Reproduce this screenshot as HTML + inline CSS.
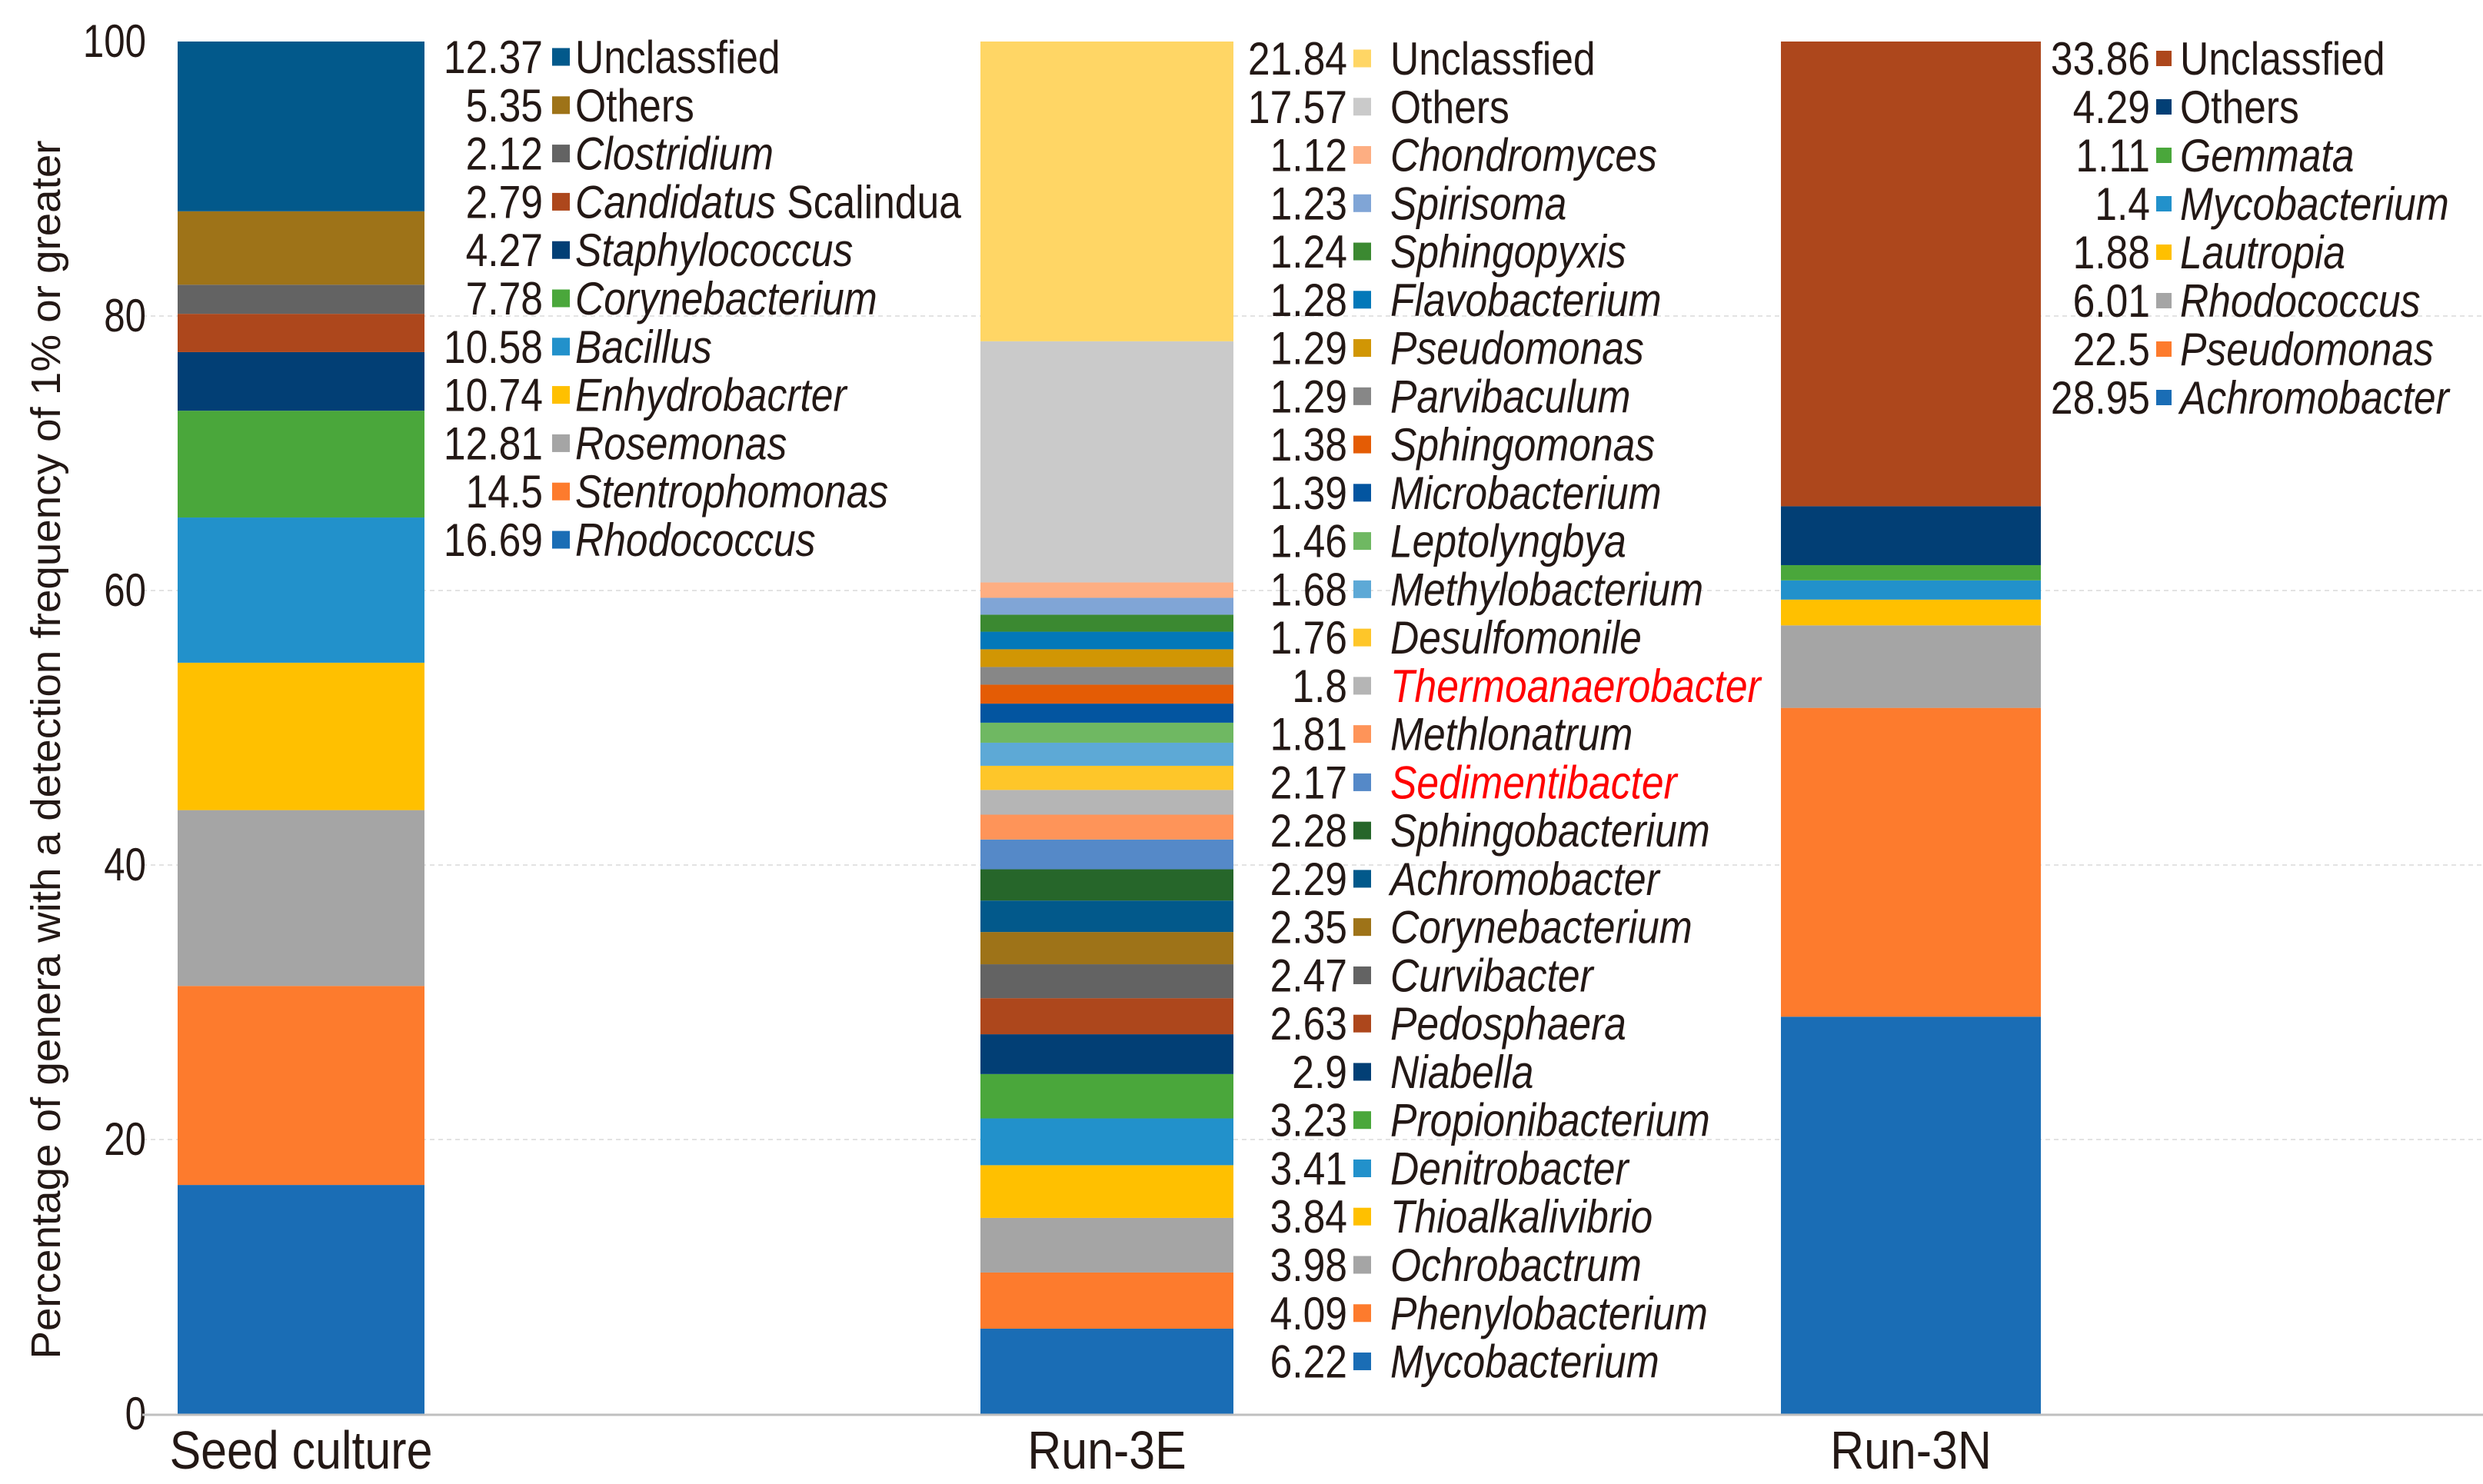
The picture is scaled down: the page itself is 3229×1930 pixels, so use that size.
<!DOCTYPE html>
<html><head><meta charset="utf-8"><style>
html,body{margin:0;padding:0;background:#fff;}
svg{display:block;font-family:"Liberation Sans",Arial,sans-serif;}
</style></head><body>
<svg id="chart" width="3229" height="1930" viewBox="0 0 3229 1930" xmlns="http://www.w3.org/2000/svg">
<rect width="3229" height="1930" fill="#fff"/>
<g id="grid"></g>
<g id="bars"></g>
<g id="legends"></g>
<g id="axes"></g>
</svg>
<script>
const categories = ["Seed culture", "Run-3E", "Run-3N"];
const yTicks = [0, 20, 40, 60, 80, 100];
const seedNames = ["Rhodococcus","Stentrophomonas","Rosemonas","Enhydrobacrter","Bacillus","Corynebacterium","Staphylococcus","Candidatus Scalindua","Clostridium","Others","Unclassfied"];
const seedValues = [16.69,14.5,12.81,10.74,10.58,7.78,4.27,2.79,2.12,5.35,12.37];
const seedColors = ["#1a6db5","#fd7b2d","#a5a5a5","#ffc000","#2291cb","#4aa73b","#023f75","#ad471c","#636363","#9e7318","#02598b"];
const e3Names = ["Mycobacterium","Phenylobacterium","Ochrobactrum","Thioalkalivibrio","Denitrobacter","Propionibacterium","Niabella","Pedosphaera","Curvibacter","Corynebacterium","Achromobacter","Sphingobacterium","Sedimentibacter","Methlonatrum","Thermoanaerobacter","Desulfomonile","Methylobacterium","Leptolyngbya","Microbacterium","Sphingomonas","Parvibaculum","Pseudomonas","Flavobacterium","Sphingopyxis","Spirisoma","Chondromyces","Others","Unclassfied"];
const e3Values = [6.22,4.09,3.98,3.84,3.41,3.23,2.9,2.63,2.47,2.35,2.29,2.28,2.17,1.81,1.8,1.76,1.68,1.46,1.39,1.38,1.29,1.29,1.28,1.24,1.23,1.12,17.57,21.84];
const e3Colors = ["#1a6db5","#fd7b2d","#a5a5a5","#ffc000","#2291cb","#4aa73b","#023f75","#ad471c","#636363","#9e7318","#02598b","#26662a","#5589c8","#fe9459","#b5b5b5","#fec629","#5da9d6","#6fb862","#0355a0","#e45c05","#878787","#d19604","#0378b9","#3b8931","#80a5d6","#fdae82","#cacaca","#ffd665"];
const e3Red = ["Thermoanaerobacter","Sedimentibacter"];
const n3Names = ["Achromobacter","Pseudomonas","Rhodococcus","Lautropia","Mycobacterium","Gemmata","Others","Unclassfied"];
const n3Values = [28.95,22.5,6.01,1.88,1.4,1.11,4.29,33.86];
const n3Colors = ["#1a6db5","#fd7b2d","#a5a5a5","#ffc000","#2291cb","#4aa73b","#023f75","#ad471c"];

const NS="http://www.w3.org/2000/svg";
const Y0=1839, Y1=54;
function y(v){return Y0-(v/100)*(Y0-Y1);}
const barX=[[231,552],[1275,1604],[2316,2654]];
function mk(tag,attrs,parent){const e=document.createElementNS(NS,tag);for(const k in attrs)e.setAttribute(k,attrs[k]);parent.appendChild(e);return e;}
const grid=document.getElementById('grid'),bars=document.getElementById('bars'),leg=document.getElementById('legends'),axes=document.getElementById('axes');

yTicks.forEach(t=>{
  if(t>0&&t<100){const l=mk('line',{x1:185,x2:3229,y1:y(t),y2:y(t),stroke:'#e3e3e3','stroke-width':2,'stroke-dasharray':'6,5'},grid);
  
  }
  const tx=mk('text',{x:0,y:0,'text-anchor':'end','font-size':60,fill:'#231815',transform:`translate(190,${y(t)+20}) scale(0.82,1)`},axes);
  tx.textContent=t;
  
  
});
const ax=mk('line',{x1:185,x2:3229,y1:Y0+1,y2:Y0+1,stroke:'#bfbfbf','stroke-width':3},axes);



const series=[[seedValues,seedColors,seedNames],[e3Values,e3Colors,e3Names],[n3Values,n3Colors,n3Names]];
series.forEach((s,i)=>{
  let acc=0;
  s[0].forEach((v,j)=>{
    const r=mk('rect',{x:barX[i][0],width:barX[i][1]-barX[i][0],y:y(acc+v),height:y(acc)-y(acc+v),fill:s[1][j]},bars);
    
    
    acc+=v;
  });
  const lab=mk('text',{x:0,y:0,'text-anchor':'middle','font-size':70,fill:'#231815',transform:`translate(${(barX[i][0]+barX[i][1])/2},${1910}) scale(0.87,1)`},axes);
  lab.textContent=categories[i];
  
  
});

const legendCfg=[
  {vals:seedValues,cols:seedColors,names:seedNames,numX:706,sqX:718,sq:23,labX:748,top:74,step:62.8,sx:0.86},
  {vals:e3Values,cols:e3Colors,names:e3Names,numX:1752,sqX:1760,sq:23,labX:1808,top:76,step:62.76,sx:0.86},
  {vals:n3Values,cols:n3Colors,names:n3Names,numX:2796,sqX:2804,sq:20,labX:2835,top:76,step:63,sx:0.86}
];
legendCfg.forEach((c,li)=>{
  const n=c.vals.length;
  for(let k=0;k<n;k++){
    const j=n-1-k; const cy=c.top+k*c.step;
    const g=mk('g',{},leg);
    
    
    const num=mk('text',{x:0,y:0,'text-anchor':'end','font-size':60,fill:'#231815',transform:`translate(${c.numX},${cy+21}) scale(${c.sx},1)`},g);
    num.textContent=c.vals[j];
    mk('rect',{x:c.sqX,y:cy-c.sq/2,width:c.sq,height:c.sq,fill:c.cols[j]},g);
    const nm=c.names[j];
    const t=mk('text',{x:0,y:0,'font-size':60,fill:e3Red.includes(nm)&&li===1?'#ff0000':'#231815',transform:`translate(${c.labX},${cy+21}) scale(${c.sx},1)`},g);
    if(nm==="Candidatus Scalindua"){
      const a=mk('tspan',{'font-style':'italic'},t);a.textContent="Candidatus";
      const b=mk('tspan',{},t);b.textContent=" Scalindua";
    } else {
      if(nm!=="Unclassfied"&&nm!=="Others") t.setAttribute('font-style','italic');
      t.textContent=nm;
    }
  }
});

const yt=mk('text',{x:0,y:0,'text-anchor':'middle','font-size':54,fill:'#231815',textLength:1585,lengthAdjust:'spacingAndGlyphs',transform:'translate(78,975) rotate(-90)'},axes);
yt.textContent="Percentage of genera with a detection frequency of 1% or greater";


</script>
</body></html>
